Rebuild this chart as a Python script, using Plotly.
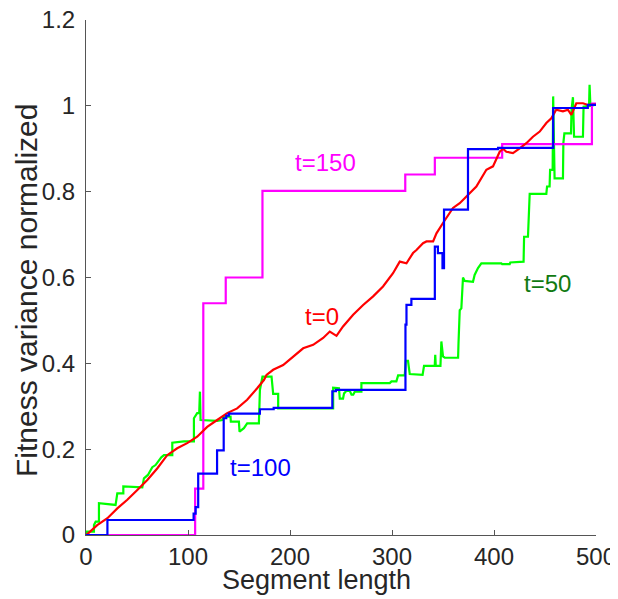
import plotly.graph_objects as go

# ---- data ----
t150_x = [0, 107, 115, 137, 173, 313, 342, 408, 496, 500]
t150_y = [0, 0.108, 0.54, 0.60, 0.802, 0.840, 0.879, 0.911, 1.005, 1.005]

t100_x = [0, 21, 105.5, 107.5, 110, 128.5, 135, 137.5, 140, 170.5, 177, 184, 241.5, 245,
          313.2, 314.2, 319, 342, 345, 349.5, 351, 374.5, 404, 458, 461, 492, 500]
t100_y = [0, 0.035, 0.05, 0.065, 0.143, 0.197, 0.272, 0.278, 0.283, 0.293, 0.293, 0.296, 0.335, 0.338,
          0.49, 0.536, 0.55, 0.672, 0.657, 0.622, 0.758, 0.899, 0.902, 0.995, 0.995, 1.002, 1.002]

t50_x = [0, 0.7, 0.7, 7.8, 7.8, 9.5, 12.7, 12.7, 29, 30.7, 36.6, 36.6, 55.2, 56.8, 60.7, 65, 68.2,
         73.8, 76.4, 84.6, 84.6, 96, 105.8, 105.8, 109, 111, 111.7, 112.3, 128.6, 133.6, 135.2,
         141.7, 142, 149.9, 150.5, 154.8, 158, 169.5, 170,
         170.5, 173, 181.9, 183.5, 188.4, 188.4, 242.3, 242.3, 248, 248.8, 252, 253, 255.4, 258.6,
         260.3, 262, 263.5, 270, 270, 297.8, 299.5, 304.3, 306, 312.5, 313.5, 315.7, 317.4, 330,
         331.4, 341.9, 342.4, 342.9, 347.5, 348.4, 350, 351.7, 364.8, 365.2, 366.4, 368, 369.6,
         371.3, 379.4, 381, 384.3, 387.6, 407.2, 408, 415.4, 416, 428.4,
         429, 429.5, 433.3, 435, 451.3, 452, 454.5, 455, 457.5, 458, 459.4, 467.6, 468, 469,
         475.5, 476, 477.4, 478.5, 487.2, 487.8, 493.2, 493.7, 494.5, 500]
t50_y = [0, 0.004, 0.008, 0.008, 0.023, 0.031, 0.031, 0.074, 0.07, 0.097, 0.097, 0.113, 0.111, 0.132,
         0.14, 0.158, 0.163, 0.181, 0.186, 0.186, 0.215, 0.218, 0.218, 0.272, 0.284, 0.284, 0.334,
         0.268, 0.266, 0.268, 0.276, 0.276, 0.264, 0.264, 0.241, 0.249, 0.26, 0.26, 0.322,
         0.338, 0.369, 0.369, 0.329, 0.329, 0.295, 0.295, 0.343, 0.342, 0.318, 0.318, 0.33, 0.336,
         0.336, 0.327, 0.327, 0.334, 0.334, 0.354, 0.354, 0.358, 0.358, 0.372, 0.372, 0.406, 0.406,
         0.375, 0.373, 0.394, 0.394, 0.42, 0.394, 0.394, 0.451, 0.416, 0.413, 0.413, 0.447, 0.524,
         0.528, 0.6, 0.592, 0.59, 0.606, 0.622, 0.633, 0.633, 0.631, 0.631, 0.635, 0.637,
         0.637, 0.695, 0.695, 0.795, 0.795, 0.812, 0.812, 0.851, 0.851, 1.022, 0.831, 0.831, 0.913,
         0.936, 0.936, 0.991, 1.02, 0.928, 0.928, 0.998, 1.0, 1.049, 1.0, 1.003]

t0_x = [0, 1.3, 11, 21, 30.7, 40.5, 50.3, 60.1, 69.8, 79.6, 89.4, 99.2, 109, 118.8, 128.6, 138.4,
        148.2, 158, 167.8, 174.4, 177, 183.5, 193.3, 203, 212.9, 222.7, 232.5, 239, 242, 245.6, 252,
        261.9, 271.7, 281.5, 291.2, 301, 307.6, 314.2, 320.6, 324, 330.4, 333.8, 340.3, 343.6, 350,
        359.8, 366.4, 373, 382.7, 392.5, 399, 405.6, 408.8, 412.1, 418.6, 425.2, 431.7, 438.2, 444.8,
        451.3, 456.2, 461, 467.6, 472.5, 475.8, 480.7, 487.2, 492.1, 498.6, 500]
t0_y = [0, 0.002, 0.023, 0.039, 0.062, 0.082, 0.105, 0.128, 0.155, 0.186, 0.202, 0.214, 0.229, 0.252,
        0.268, 0.284, 0.295, 0.315, 0.342, 0.361, 0.373, 0.385, 0.396, 0.416, 0.435, 0.443, 0.459,
        0.474, 0.47, 0.464, 0.486, 0.513, 0.536, 0.556, 0.579, 0.61, 0.637, 0.633, 0.657, 0.664, 0.68,
        0.684, 0.684, 0.703, 0.727, 0.762, 0.773, 0.789, 0.812, 0.851, 0.859, 0.893, 0.9, 0.893, 0.89,
        0.901, 0.913, 0.928, 0.94, 0.96, 0.971, 0.991, 0.987, 0.991, 0.979, 1.006, 1.006, 1.002,
        1.004, 1.003]

labels = ["t=0", "t=50", "t=100", "t=150"]
label_x = [231, 452, 171, 235]
label_y = [0.51, 0.586, 0.158, 0.867]
label_colors = ["#ff0000", "#117a11", "#0000ff", "#ff00ff"]

x_ticks = [0, 100, 200, 300, 400, 500]
y_ticks = [0, 0.2, 0.4, 0.6, 0.8, 1.0, 1.2]
y_tick_text = ["0", "0.2", "0.4", "0.6", "0.8", "1", "1.2"]

x_title = "Segment length"
y_title = "Fitness variance normalized"

FONT = "Liberation Sans, Arial, Helvetica, sans-serif"
TXT = "#262626"

# the page body adds an 8px offset, so the figure is laid out 8px smaller
W, H = 610, 591
L, R, T, B = 78, 22, 12, 64
pw, ph = W - L - R, H - T - B

fig = go.Figure()
fig.add_trace(go.Scatter(x=t50_x, y=t50_y, mode="lines", line=dict(color="#00ff00", width=2.2), name="t=50"))
fig.add_trace(go.Scatter(x=t150_x, y=t150_y, mode="lines", line=dict(color="#ff00ff", width=2.2, shape="hv"), name="t=150"))
fig.add_trace(go.Scatter(x=t0_x, y=t0_y, mode="lines", line=dict(color="#ff0000", width=2.2), name="t=0"))
fig.add_trace(go.Scatter(x=t100_x, y=t100_y, mode="lines", line=dict(color="#0000ff", width=2.2, shape="hv"), name="t=100"))

for txt, lx, ly, c in zip(labels, label_x, label_y, label_colors):
    fig.add_annotation(x=lx, y=ly, text=txt, showarrow=False,
                       font=dict(family=FONT, size=24, color=c), xanchor="center", yanchor="middle")

# axis titles as paper-anchored text (pixel positions in figure coords)
xt_px, yt_px = (308, 572), (18, 282)
fig.add_annotation(x=(xt_px[0] - L) / pw, y=(H - B - xt_px[1]) / ph, xref="paper", yref="paper",
                   text=x_title, showarrow=False,
                   font=dict(family=FONT, size=27, color=TXT), xanchor="center", yanchor="middle")
fig.add_annotation(x=(yt_px[0] - L) / pw, y=(H - B - yt_px[1]) / ph, xref="paper", yref="paper",
                   text=y_title, showarrow=False, textangle=-90,
                   font=dict(family=FONT, size=30, color=TXT), xanchor="center", yanchor="middle")

fig.update_layout(
    width=W, height=H,
    margin=dict(l=L, r=R, t=T, b=B, autoexpand=False),
    plot_bgcolor="white", paper_bgcolor="white",
    showlegend=False,
    font=dict(family=FONT, color=TXT),
)
fig.update_xaxes(range=[0, 500], tickvals=x_ticks, ticks="inside", ticklen=5, tickcolor="#555",
                 showline=True, linecolor="#555", linewidth=1, showgrid=False, zeroline=False,
                 automargin=False, ticklabeloverflow="allow",
                 tickfont=dict(family=FONT, size=24, color=TXT), ticklabelstandoff=0)
fig.update_yaxes(range=[0, 1.2], tickvals=y_ticks, ticktext=y_tick_text, ticks="inside", ticklen=5,
                 tickcolor="#555", showline=True, linecolor="#555", linewidth=1, showgrid=False,
                 zeroline=False, automargin=False, ticklabeloverflow="allow",
                 tickfont=dict(family=FONT, size=24, color=TXT), ticklabelstandoff=5)

fig.write_html("out.html")
